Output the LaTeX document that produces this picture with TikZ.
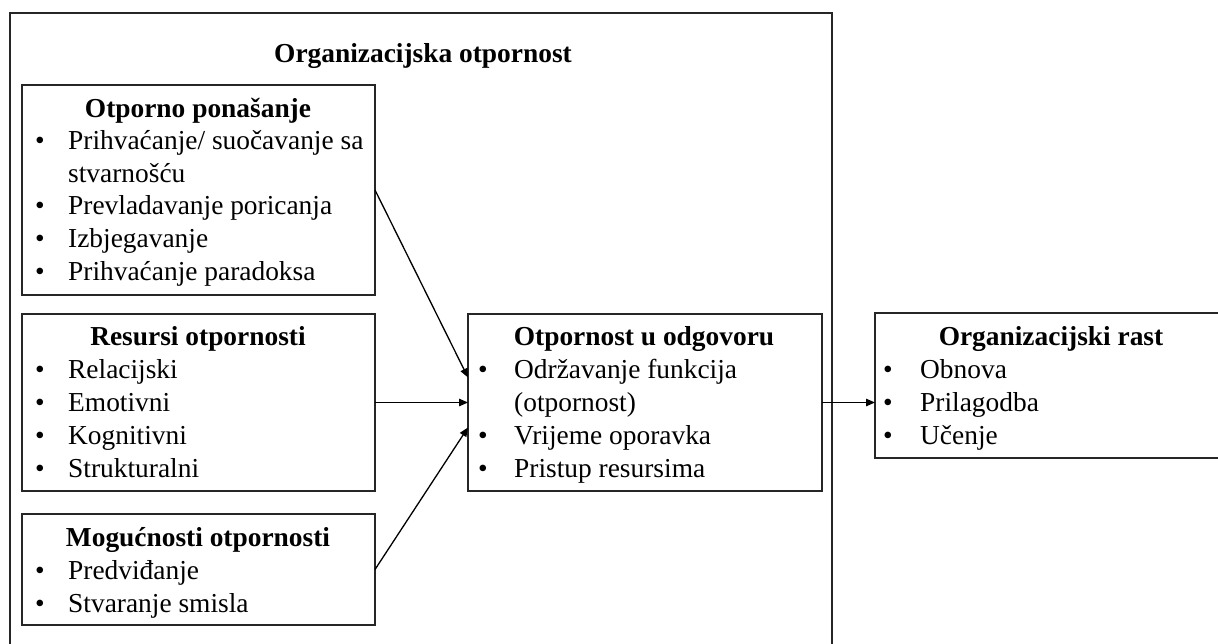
\documentclass[tikz,border=0pt]{standalone}
\usepackage{fontspec}
\setmainfont{Liberation Serif}
\usetikzlibrary{arrows.meta}
\begin{document}
\begin{tikzpicture}[x=1pt,y=-1pt,
  frame/.style={draw=black!85, line width=1.4pt, inner sep=0, outer sep=0, anchor=north west},
  ttl/.style={inner sep=0, anchor=base, font=\fontsize{27.4}{33}\selectfont\bfseries},
  itm/.style={inner sep=0, anchor=base west, font=\fontsize{27.4}{33}\selectfont},
  bul/.style={inner sep=0, anchor=base, font=\fontsize{27.4}{33}\selectfont},
  arr/.style={line width=1.3pt, -{Triangle[length=9pt,width=7.5pt]}}]
\useasboundingbox (0,0) rectangle (1218,643);
\clip (0,0) rectangle (1218,643);
\fill[white] (0,0) rectangle (1218,643);

% outer frame
\node[frame, minimum width=822pt, minimum height=660pt] (O) at (10,13) {};
\node[ttl] (Ot) at (423,62) {Organizacijska otpornost};

% Box A
\node[frame, minimum width=353pt, minimum height=210pt] (A) at (22,85) {};
\node[ttl] (At) at (198,117) {Otporno ponašanje};
\node[bul] (Ab1) at (40,149) {•};
\node[itm] (Ai1) at (68,149) {Prihvaćanje/ suočavanje sa};
\node[itm] (Ai1b) at (68,182) {stvarnošću};
\node[bul] (Ab2) at (40,214) {•};
\node[itm] (Ai2) at (68,214) {Prevladavanje poricanja};
\node[bul] (Ab3) at (40,247) {•};
\node[itm] (Ai3) at (68,247) {Izbjegavanje};
\node[bul] (Ab4) at (40,280) {•};
\node[itm] (Ai4) at (68,280) {Prihvaćanje paradoksa};

% Box B
\node[frame, minimum width=353pt, minimum height=177pt] (B) at (22,314) {};
\node[ttl] (Bt) at (198,345) {Resursi otpornosti};
\node[bul] (Bb1) at (40,378) {•};
\node[itm] (Bi1) at (68,378) {Relacijski};
\node[bul] (Bb2) at (40,411) {•};
\node[itm] (Bi2) at (68,411) {Emotivni};
\node[bul] (Bb3) at (40,444) {•};
\node[itm] (Bi3) at (68,444) {Kognitivni};
\node[bul] (Bb4) at (40,477) {•};
\node[itm] (Bi4) at (68,477) {Strukturalni};

% Box C
\node[frame, minimum width=353pt, minimum height=111pt] (C) at (22,514) {};
\node[ttl] (Ct) at (198,546) {Mogućnosti otpornosti};
\node[bul] (Cb1) at (40,579) {•};
\node[itm] (Ci1) at (68,579) {Predviđanje};
\node[bul] (Cb2) at (40,612) {•};
\node[itm] (Ci2) at (68,612) {Stvaranje smisla};

% Center box
\node[frame, minimum width=354pt, minimum height=177pt] (M) at (468,314) {};
\node[ttl] (Mt) at (644,345) {Otpornost u odgovoru};
\node[bul] (Mb1) at (483,378) {•};
\node[itm] (Mi1) at (514,378) {Održavanje funkcija};
\node[itm] (Mi1b) at (514,411) {(otpornost)};
\node[bul] (Mb2) at (483,444) {•};
\node[itm] (Mi2) at (514,444) {Vrijeme oporavka};
\node[bul] (Mb3) at (483,477) {•};
\node[itm] (Mi3) at (514,477) {Pristup resursima};

% Right box
\node[frame, minimum width=352pt, minimum height=145pt] (R) at (875,313) {};
\node[ttl] (Rt) at (1051,345) {Organizacijski rast};
\node[bul] (Rb1) at (888,378) {•};
\node[itm] (Ri1) at (920,378) {Obnova};
\node[bul] (Rb2) at (888,411) {•};
\node[itm] (Ri2) at (920,411) {Prilagodba};
\node[bul] (Rb3) at (888,444) {•};
\node[itm] (Ri3) at (920,444) {Učenje};

% connectors
\draw[arr] (A.east) -- ([yshift=25pt]M.west);
\draw[arr] (B.east) -- (M.west);
\draw[arr] (C.east) -- ([yshift=-25pt]M.west);
\draw[arr] (M.east) -- (M.east -| R.west);
\end{tikzpicture}
\end{document}
